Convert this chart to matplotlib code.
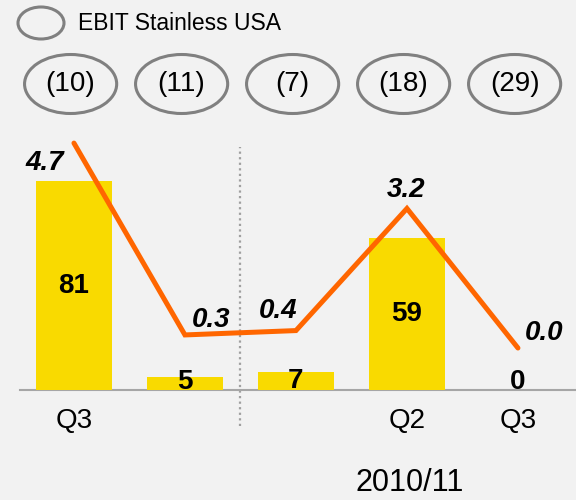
import matplotlib
matplotlib.use("Agg")
import matplotlib.pyplot as plt
import matplotlib.transforms as mtransforms
from matplotlib.patches import Ellipse

# data
periods = ["Q3", "", "", "Q2", "Q3"]
volumes = [81, 5, 7, 59, 0]
ebit_margin = [4.7, 0.3, 0.4, 3.2, 0.0]
ebit_usa = ["(10)", "(11)", "(7)", "(18)", "(29)"]
year_label = "2010/11"
legend_label = "EBIT Stainless USA"

BG = "#f2f2f2"
YELLOW = "#f9da00"
ORANGE = "#ff6600"
GREY = "#808080"

plt.rcParams["font.family"] = ["Liberation Sans", "DejaVu Sans"]

W, H = 576, 500
fig = plt.figure(figsize=(W / 100, H / 100), dpi=100, facecolor=BG)
ax = fig.add_axes([20 / W, 1 - 390 / H, 556 / W, 260 / H])
ax.set_facecolor("none")

x = list(range(len(volumes)))
ax.bar(x, volumes, width=0.68, color=YELLOW, zorder=3)
ax.set_xlim(-0.486, 4.523)
ax.set_ylim(0, 100.8)
for s in ["top", "left", "right"]:
    ax.spines[s].set_visible(False)
ax.spines["bottom"].set_color("#a6a6a6")
ax.spines["bottom"].set_linewidth(1.5)
ax.spines["bottom"].set_zorder(2)
ax.set_yticks([])
tick_pos = [i for i, p in enumerate(periods) if p]
ax.set_xticks(tick_pos, [periods[i] for i in tick_pos])
ax.tick_params(axis="x", length=0, pad=13, labelsize=20)

# bar values
for i, v in enumerate(volumes):
    ax.text(i, max(v / 2, 3.2), str(v), ha="center", va="center",
            fontsize=20, fontweight="bold", zorder=5)

# separator between years
ax.axvline(1.5, ymin=-0.138, ymax=0.935, color="#a0a0a0",
           ls=(0, (1, 1.5)), lw=1.6, clip_on=False, zorder=1)

# margin line on its own scale
ax2 = ax.twinx()
ax2.set_ylim(-0.963, 5.0)
ax2.axis("off")
ax2.plot(x, ebit_margin, color=ORANGE, lw=3.6, solid_capstyle="round",
         solid_joinstyle="miter", clip_on=False, zorder=4)
offsets = [(-21, -14), (19, 11), (-13, 14), (-1, 13), (19, 11)]
for i, v in enumerate(ebit_margin):
    ax2.annotate(f"{v:.1f}", (i, v), xytext=offsets[i], textcoords="offset points",
                 ha="center", va="center", fontsize=20, fontweight="bold",
                 fontstyle="italic")

# EBIT ellipses row
trans = mtransforms.blended_transform_factory(ax.transData, fig.transFigure)
for i, lab in enumerate(ebit_usa):
    cx = i - 0.03
    fig.add_artist(Ellipse((cx, 1 - 84 / H), 0.83, 59 / H, transform=trans,
                           fill=False, ec=GREY, lw=2.2))
    ax.text(cx, 1 - 84 / H, lab, transform=trans, ha="center", va="center",
            fontsize=20)

# legend
fig.add_artist(Ellipse((41 / W, 1 - 23 / H), 46 / W, 32 / H,
                       transform=fig.transFigure, fill=False, ec=GREY, lw=2.2))
fig.text(78 / W, 1 - 23 / H, legend_label, fontsize=16.5, va="center")

fig.text(410 / W, 1 - 483 / H, year_label, ha="center", va="center", fontsize=22)

fig.savefig("out.png", dpi=100, facecolor=BG)
